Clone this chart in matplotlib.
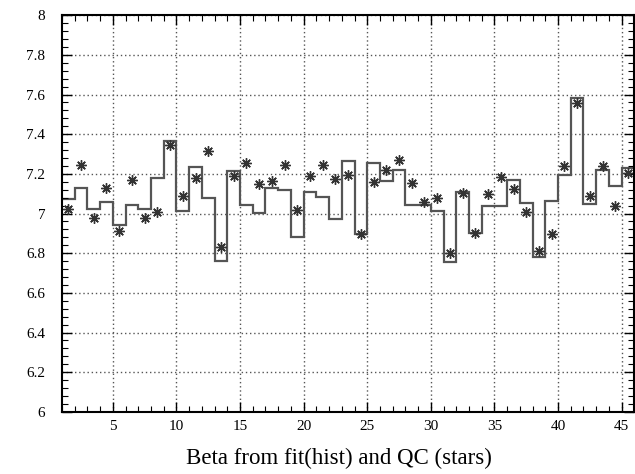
import numpy as np
import matplotlib
matplotlib.use("Agg")
import matplotlib.pyplot as plt
from matplotlib.ticker import MultipleLocator

# Bin edges (integers 1..46) and fitted beta per bin (histogram)
bin_edges = list(range(1, 47))
beta_fit = [7.074, 7.128, 7.024, 7.056, 6.940, 7.044, 7.024, 7.179, 7.365, 7.014,
            7.233, 7.078, 6.760, 7.213, 7.044, 7.002, 7.128, 7.120, 6.880, 7.108,
            7.084, 6.970, 7.263, 6.895, 7.255, 7.165, 7.221, 7.044, 7.044, 7.012,
            6.757, 7.108, 6.904, 7.040, 7.040, 7.168, 7.053, 6.780, 7.064, 7.196,
            7.584, 7.047, 7.221, 7.137, 7.230]
# QC values (stars), one per bin
beta_qc = [7.024, 7.243, 6.980, 7.128, 6.910, 7.170, 6.980, 7.010, 7.343, 7.090,
           7.179, 7.317, 6.830, 7.187, 7.255, 7.148, 7.162, 7.243, 7.019, 7.187,
           7.243, 7.176, 7.192, 6.895, 7.158, 7.221, 7.272, 7.152, 7.058, 7.080,
           6.800, 7.103, 6.900, 7.100, 7.182, 7.125, 7.010, 6.810, 6.895, 7.238,
           7.558, 7.086, 7.240, 7.040, 7.204]
x_ticks = [5, 10, 15, 20, 25, 30, 35, 40, 45]
y_ticks = [6, 6.2, 6.4, 6.6, 6.8, 7, 7.2, 7.4, 7.6, 7.8, 8]
y_tick_labels = ["6", "6.2", "6.4", "6.6", "6.8", "7", "7.2", "7.4", "7.6", "7.8", "8"]
x_label = "Beta from fit(hist) and QC (stars)"

plt.rcParams['font.family'] = ['Liberation Serif', 'DejaVu Serif']

fig = plt.figure(figsize=(6.35, 4.74), dpi=100)
ax = fig.add_axes([0.0976, 0.131, 0.9004, 0.837])

edges = np.array(bin_edges, dtype=float)
centers = (edges[:-1] + edges[1:]) / 2

ax.stairs(beta_fit, edges, baseline=None, color='#555555', linewidth=1.6)
ax.plot(centers, beta_qc, linestyle='none', marker=(8, 2, 0), markersize=7.5,
        color='#333333', markeredgewidth=1.0)

ax.set_xlim(1, 45.95)
ax.set_ylim(6, 8)
ax.set_xticks(x_ticks)
ax.set_xticklabels([str(t) for t in x_ticks])
ax.set_yticks(y_ticks)
ax.set_yticklabels(y_tick_labels)
ax.xaxis.set_minor_locator(MultipleLocator(1))
ax.yaxis.set_minor_locator(MultipleLocator(0.04))

ax.tick_params(which='both', direction='in', top=True, right=True,
               labelsize=11, colors='black')
ax.tick_params(which='major', length=7, width=1.0)
ax.tick_params(which='minor', length=4, width=0.8)
ax.tick_params(axis='x', pad=6)
ax.tick_params(axis='y', pad=12)

ax.grid(True, which='major', linestyle=(0, (1, 2)), color='#555555', linewidth=1.0)
for s in ax.spines.values():
    s.set_linewidth(1.5)
    s.set_color('black')

ax.set_xlabel(x_label, fontsize=16.5, va='center')
ax.xaxis.set_label_coords(0.485, -0.118)

fig.savefig("out.png", dpi=100)
